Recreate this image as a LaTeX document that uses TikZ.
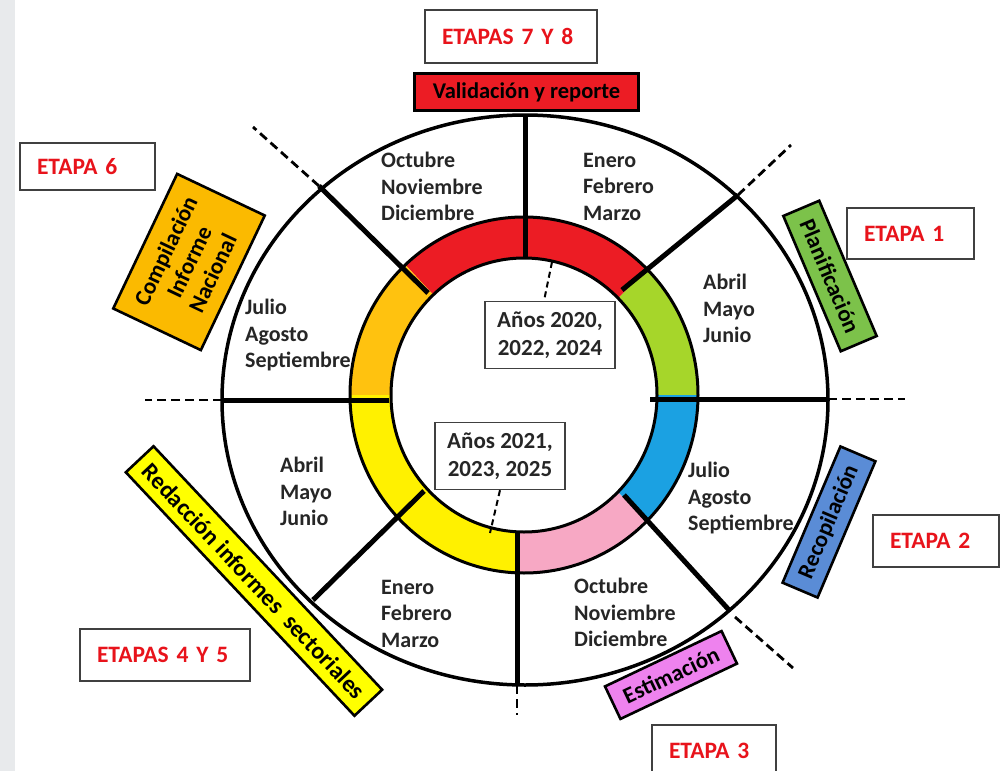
\documentclass[tikz,border=0pt]{standalone}
\usepackage{fontspec}
\setmainfont{Carlito}
\usetikzlibrary{calc}
\definecolor{ringred}{HTML}{EC1C24}
\definecolor{ringgreen}{HTML}{A6D62A}
\definecolor{ringblue}{HTML}{1BA1E2}
\definecolor{ringpink}{HTML}{F7A8C4}
\definecolor{ringyellow}{HTML}{FFF100}
\definecolor{ringorange}{HTML}{FFC20F}
\definecolor{plangreen}{HTML}{7CC24A}
\definecolor{recblue}{HTML}{5A8CD6}
\definecolor{estviolet}{HTML}{EE82EE}
\definecolor{redyellow}{HTML}{FFFF00}
\definecolor{compyellow}{HTML}{FBBA00}
\definecolor{etapared}{HTML}{E8131B}
\definecolor{etapagray}{HTML}{404040}
\definecolor{monthtxt}{HTML}{262626}
\definecolor{bggray}{HTML}{E8EAEC}
\begin{document}
\begin{tikzpicture}[x=1pt,y=-1pt,
  month/.style={anchor=north west,align=left,inner sep=0pt,text=monthtxt,font=\bfseries\fontsize{22}{26.5}\selectfont},
  etapabox/.style={draw=etapagray,line width=1.4pt,fill=white,inner xsep=17pt,inner ysep=0pt,align=left,text=etapared,font=\bfseries\fontsize{23.5}{28}\selectfont},
  stagebox/.style={draw=black,line width=2.6pt,inner sep=0pt,align=center,text=black,font=\bfseries\fontsize{23}{26}\selectfont},
  yearbox/.style={draw=etapagray,line width=1.4pt,fill=white,align=center,inner sep=0pt,minimum width=130pt,minimum height=67pt,text=monthtxt,font=\bfseries\fontsize{23}{28}\selectfont},
  radial/.style={line width=5pt},
  dashext/.style={line width=2.8pt,dash pattern=on 9pt off 5pt},
  ringedge/.style={line width=3pt},
  smalldash/.style={line width=2pt,dash pattern=on 6pt off 4pt}]
\useasboundingbox (0,0) rectangle (1005,771);
\clip (0,0) rectangle (1005,771);
\fill[white] (0,0) rectangle (1005,771);
\fill[bggray] (0,0) rectangle (15,771);
% coloured ring
\begin{scope}[shift={(524,395)},yscale=-1]
  \foreach \a/\b/\c in {0/45/ringgreen,45/133/ringred,133/180/ringorange,180/267.4/ringyellow,267.4/315/ringpink,315/360/ringblue}{
    \fill[\c] (\a:174 and 178) arc[start angle=\a,end angle=\b,x radius=174,y radius=178]
      -- (\b:133 and 137) arc[start angle=\b,end angle=\a,x radius=133,y radius=137] -- cycle;}
  \draw[ringedge] (0,0) ellipse[x radius=174,y radius=178];
  \draw[ringedge] (0,0) ellipse[x radius=133,y radius=137];
\end{scope}
% coordinates
\coordinate (o90) at (525,115);  \coordinate (i90) at (525,258);
\coordinate (o45) at (738,195);  \coordinate (i45) at (622,290);
\coordinate (o0) at (828,399);   \coordinate (i0) at (650,399);
\coordinate (o315) at (729,610); \coordinate (i315) at (624,495);
\coordinate (o270) at (517,685); \coordinate (i270) at (517,533);
\coordinate (o224) at (313,600); \coordinate (i224) at (424,491);
\coordinate (o180) at (222,400); \coordinate (i180) at (389,400);
\coordinate (o133) at (319,186); \coordinate (i133) at (428,293);
\coordinate (d133) at (253,127);
\coordinate (d45) at (791,145);
\coordinate (d180) at (145,400);
\coordinate (d0) at (905,399);
\coordinate (d270) at (517,715);
\coordinate (s315) at (735,617);
\coordinate (d315) at (793,668);
\coordinate (sd1) at (552,262);
\coordinate (sd2) at (490,533);
% radial dividers
\foreach \n in {90,45,0,315,270,224,180,133}{\draw[radial] (i\n) -- (o\n);}
% outer circle
\draw[line width=3.5pt] (525,400) ellipse[x radius=303,y radius=285];
% dashed extensions
\draw[dashext] (o133) -- (d133);
\draw[dashext] (o45) -- (d45);
\draw[dashext] (o180) -- (d180);
\draw[dashext] (o0) -- (d0);
\draw[dashext] (o270) -- (d270);
\draw[dashext] (s315) -- (d315);
% year boxes
\node[yearbox] (y1) at (550,335) {Años 2020,\\2022, 2024};
\node[yearbox] (y2) at (500,456) {Años 2021,\\2023, 2025};
\draw[smalldash] (sd1) -- ([xshift=-6pt]y1.north);
\draw[smalldash] (y2.south) -- (sd2);
% months
\node[month] (m1) at (381,152) {Octubre\\Noviembre\\Diciembre};
\node[month] (m2) at (583,153) {Enero\\Febrero\\Marzo};
\node[month] (m3) at (703,274) {Abril\\Mayo\\Junio};
\node[month] (m4) at (688,462) {Julio\\Agosto\\Septiembre};
\node[month] (m5) at (574,578) {Octubre\\Noviembre\\Diciembre};
\node[month] (m6) at (381,580) {Enero\\Febrero\\Marzo};
\node[month] (m7) at (280,457) {Abril\\Mayo\\Junio};
\node[month] (m8) at (245,299) {Julio\\Agosto\\Septiembre};
% stage boxes
\node[stagebox,fill=ringred,minimum width=224pt,minimum height=37pt,font=\bfseries\fontsize{22.5}{27}\selectfont] (val) at (526.5,92) {Validación y reporte};
\node[stagebox,fill=compyellow,rotate=64.6,minimum width=149pt,minimum height=97pt] (comp) at (189,262) {Compilación\\Informe\\Nacional};
\node[stagebox,fill=plangreen,rotate=-67,minimum width=147pt,minimum height=39pt] (plan) at (830,276) {Planificación};
\node[stagebox,fill=recblue,rotate=67,minimum width=148pt,minimum height=38pt] (rec) at (829,522) {Recopilación};
\node[stagebox,fill=estviolet,rotate=25.4,minimum width=129pt,minimum height=36pt] (est) at (671,675) {Estimación};
\node[stagebox,fill=redyellow,rotate=-46.8,minimum width=334pt,minimum height=38pt,font=\bfseries\fontsize{24}{26}\selectfont] (redac) at (254,581) {Redacción informes~~sectoriales};
% etapa boxes
\node[etapabox,text width=138pt,minimum height=53pt] (e78) at (511,36.5) {ETAPAS 7 Y 8};
\node[etapabox,text width=101pt,minimum height=47pt] (e6) at (87.5,166.5) {ETAPA 6};
\node[etapabox,text width=93pt,minimum height=51pt] (e1) at (910.5,233.5) {ETAPA 1};
\node[etapabox,text width=92pt,minimum height=52pt] (e2) at (936,541) {ETAPA 2};
\node[etapabox,text width=90pt,minimum height=51pt] (e3) at (714,750.5) {ETAPA 3};
\node[etapabox,text width=136pt,minimum height=52pt] (e45) at (165,655) {ETAPAS 4 Y 5};
\end{tikzpicture}
\end{document}
